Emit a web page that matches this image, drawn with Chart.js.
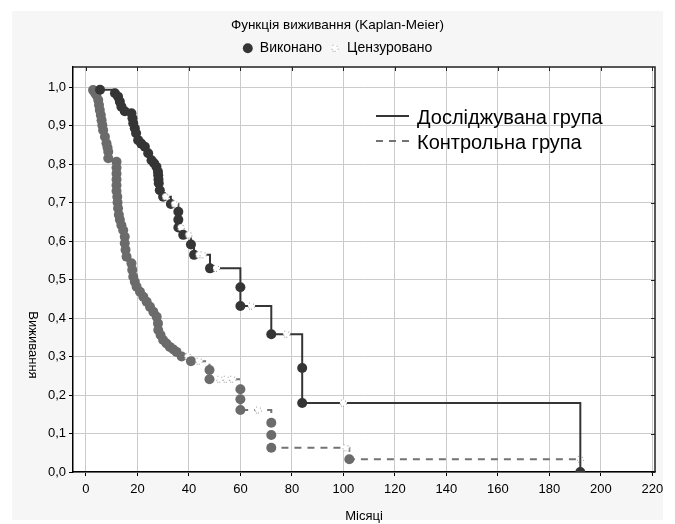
<!DOCTYPE html>
<html lang="uk">
<head>
<meta charset="utf-8">
<title>Функція виживання (Kaplan-Meier)</title>
<script src="https://cdn.jsdelivr.net/npm/chart.js@4.4.1/dist/chart.umd.min.js"></script>
<style>
  html, body { margin: 0; padding: 0; background: #fff; }
  #wrap { width: 675px; height: 524px; }
</style>
</head>
<body>
<div id="wrap"><canvas id="km" width="675" height="524"></canvas></div>
<script>
// Kaplan-Meier estimates: month, survival, censored (1) / event (0)
const studyMonths = [5.5, 11.3, 12.5, 13.2, 13.8, 15.1, 17.7, 18.1, 18.4, 19, 19.5, 20.3, 21.5, 22.9, 24.2, 25.5, 26.5, 27.4, 28, 28.1, 28.2, 28.3, 28.7, 30, 31, 33, 34.5, 35.9, 35.9, 35.9, 37, 37.8, 40, 40.8, 42, 44, 45.5, 48.2, 50.7, 60, 60, 64.3, 72, 78, 84, 84, 100, 192];
const studySurv = [0.993, 0.984, 0.975, 0.962, 0.949, 0.937, 0.932, 0.919, 0.906, 0.893, 0.88, 0.862, 0.853, 0.845, 0.828, 0.81, 0.802, 0.793, 0.78, 0.771, 0.76, 0.75, 0.732, 0.715, 0.715, 0.696, 0.696, 0.676, 0.655, 0.635, 0.635, 0.616, 0.616, 0.591, 0.564, 0.564, 0.564, 0.529, 0.529, 0.48, 0.431, 0.431, 0.358, 0.358, 0.27, 0.179, 0.179, 0];
const studyCens = [0, 0, 0, 0, 0, 0, 0, 0, 0, 0, 0, 0, 0, 0, 0, 0, 0, 0, 0, 0, 0, 0, 0, 0, 1, 0, 1, 0, 0, 0, 1, 0, 1, 0, 0, 1, 1, 0, 1, 0, 0, 1, 0, 1, 0, 0, 1, 0];

const controlMonths = [2.8, 3.5, 4.1, 4.8, 5.1, 5.4, 5.8, 6.1, 6.4, 6.7, 7.4, 8, 8.4, 8.7, 8.7, 11.9, 11.9, 11.9, 11.9, 11.9, 11.9, 12.2, 12.3, 12.5, 12.8, 13.2, 13.8, 14.5, 15.1, 15.1, 15.4, 15.8, 17.7, 18, 18.4, 19, 19.7, 21, 22.3, 23.6, 24.9, 26.2, 27.5, 28, 28.1, 29, 30, 31.3, 32.6, 34, 35.2, 37.2, 39.7, 40.8, 44, 48, 48, 52, 54.5, 57, 60, 60, 60, 67, 72, 72, 72, 101, 102.3, 192];
const controlSurv = [0.992, 0.985, 0.979, 0.966, 0.953, 0.94, 0.927, 0.914, 0.901, 0.888, 0.871, 0.854, 0.843, 0.832, 0.815, 0.806, 0.79, 0.775, 0.76, 0.745, 0.73, 0.715, 0.7, 0.685, 0.668, 0.655, 0.641, 0.628, 0.611, 0.594, 0.577, 0.559, 0.542, 0.525, 0.507, 0.494, 0.481, 0.468, 0.455, 0.442, 0.429, 0.416, 0.403, 0.386, 0.369, 0.356, 0.343, 0.334, 0.325, 0.318, 0.312, 0.3, 0.3, 0.288, 0.288, 0.265, 0.241, 0.241, 0.241, 0.241, 0.215, 0.189, 0.161, 0.161, 0.128, 0.096, 0.063, 0.063, 0.033, 0.033];
const controlCens = [0, 0, 0, 0, 0, 0, 0, 0, 0, 0, 0, 0, 0, 0, 0, 0, 0, 0, 0, 0, 0, 0, 0, 0, 0, 0, 0, 0, 0, 0, 0, 0, 0, 0, 0, 0, 0, 0, 0, 0, 0, 0, 0, 0, 0, 0, 0, 0, 0, 0, 0, 0, 1, 0, 1, 0, 0, 1, 1, 1, 0, 0, 0, 1, 0, 0, 0, 1, 0, 1];

const xTicks = [0, 20, 40, 60, 80, 100, 120, 140, 160, 180, 200, 220];
const yTicks = [0, 0.1, 0.2, 0.3, 0.4, 0.5, 0.6, 0.7, 0.8, 0.9, 1.0];
const groupLabels = ["Досліджувана група", "Контрольна група"];
const markerLabels = ["Виконано", "Цензуровано"];
const yTitle = "Виживання";

const FONT = '"Liberation Sans", Arial, sans-serif';
const DARK = "#353535";
const GREY = "#6b6b6b";
const GREY_LINE = "#737373";

Chart.defaults.font.family = FONT;
Chart.defaults.color = "#000";

// small dotted white speck used for censored observations
function makeCensorMark() {
  const c = document.createElement("canvas");
  c.width = 9; c.height = 9;
  const g = c.getContext("2d");
  g.fillStyle = "#fff";
  g.beginPath(); g.arc(4.5, 4.5, 3.6, 0, Math.PI * 2); g.fill();
  g.fillStyle = "#9a9a9a";
  [[2, 1], [6, 2], [7, 5], [1, 5], [4, 7], [2, 7]].forEach(([px, py]) => g.fillRect(px, py, 1, 1));
  return c;
}
const censorMark = makeCensorMark();

function kmDataset(label, months, surv, cens, lineColor, dotColor, dash) {
  return {
    label,
    data: months.map((m, i) => ({ x: m, y: surv[i] })),
    stepped: true,
    fill: false,
    borderColor: lineColor,
    borderWidth: 2,
    borderDash: dash,
    pointRadius: 5,
    pointHoverRadius: 5,
    pointBorderWidth: 0,
    pointBackgroundColor: dotColor,
    pointBorderColor: dotColor,
    pointStyle: (ctx) => (cens[ctx.dataIndex] ? censorMark : "circle"),
  };
}

// grey panel behind everything, white plotting area
const panelBg = {
  id: "panelBg",
  beforeDraw(chart) {
    const { ctx, chartArea: a } = chart;
    ctx.save();
    ctx.fillStyle = "#fff";
    ctx.fillRect(0, 0, chart.width, chart.height);
    ctx.fillStyle = "#f6f6f6";
    ctx.fillRect(12, 11, 651, 509);
    ctx.fillStyle = "#fff";
    ctx.fillRect(a.left, a.top, a.right - a.left, a.bottom - a.top);
    ctx.restore();
  },
};

// top/right frame with inward ticks, y title (sits low, like the original) and the group key
const frameAndKey = {
  id: "frameAndKey",
  afterDraw(chart) {
    const { ctx, chartArea: a, scales } = chart;
    ctx.save();
    ctx.strokeStyle = "#222";
    ctx.lineWidth = 1.5;
    ctx.beginPath();
    ctx.moveTo(a.left, a.top); ctx.lineTo(a.right, a.top); ctx.lineTo(a.right, a.bottom);
    ctx.stroke();
    ctx.lineWidth = 1;
    ctx.beginPath();
    xTicks.forEach((v) => {
      const px = Math.round(scales.x.getPixelForValue(v)) + 0.5;
      ctx.moveTo(px, a.top); ctx.lineTo(px, a.top + 4);
    });
    yTicks.forEach((v) => {
      const py = Math.round(scales.y.getPixelForValue(v)) + 0.5;
      ctx.moveTo(a.right, py); ctx.lineTo(a.right - 4, py);
    });
    ctx.stroke();

    ctx.fillStyle = "#000";
    ctx.textAlign = "center";
    ctx.textBaseline = "middle";
    ctx.font = "13px " + FONT;
    ctx.save();
    ctx.translate(33, 345);
    ctx.rotate(Math.PI / 2);
    ctx.fillText(yTitle, 0, 0);
    ctx.restore();

    // group key
    ctx.font = "20px " + FONT;
    ctx.textAlign = "left";
    ctx.lineWidth = 2;
    ctx.strokeStyle = DARK;
    ctx.beginPath(); ctx.moveTo(376, 116); ctx.lineTo(409, 116); ctx.stroke();
    ctx.fillText(groupLabels[0], 417, 118);
    ctx.strokeStyle = GREY_LINE;
    ctx.setLineDash([7, 6]);
    ctx.beginPath(); ctx.moveTo(376, 141); ctx.lineTo(410, 141); ctx.stroke();
    ctx.setLineDash([]);
    ctx.fillText(groupLabels[1], 417, 143);
    ctx.restore();
  },
};

new Chart(document.getElementById("km"), {
  type: "line",
  data: {
    datasets: [
      kmDataset(groupLabels[0], studyMonths, studySurv, studyCens, DARK, DARK, []),
      kmDataset(groupLabels[1], controlMonths, controlSurv, controlCens, GREY_LINE, GREY, [7, 6]),
    ],
  },
  options: {
    responsive: false,
    animation: false,
    events: [],
    layout: { padding: 0 },
    plugins: {
      title: {
        display: true,
        text: "Функція виживання (Kaplan-Meier)",
        color: "#000",
        font: { size: 13.5, weight: "normal" },
        padding: { top: 17, bottom: 0 },
      },
      legend: {
        display: true,
        weight: 1800,
        onClick: null,
        labels: {
          usePointStyle: true,
          boxWidth: 10,
          boxHeight: 7,
          padding: 8,
          color: "#000",
          font: { size: 14 },
          generateLabels: () => [
            { text: markerLabels[0], pointStyle: "circle", fillStyle: DARK, strokeStyle: DARK, lineWidth: 0, hidden: false, fontColor: "#000" },
            { text: markerLabels[1], pointStyle: censorMark, fillStyle: "#fff", strokeStyle: "#fff", lineWidth: 0, hidden: false, fontColor: "#000" },
          ],
        },
      },
      subtitle: { display: true, text: "", font: { size: 1 }, padding: { top: 0.6, bottom: 0 } },
      tooltip: { enabled: false },
    },
    scales: {
      x: {
        type: "linear",
        min: -5,
        max: 221,
        afterBuildTicks: (s) => { s.ticks = xTicks.map((v) => ({ value: v })); },
        afterFit: (s) => { s.height = 52; },
        ticks: { color: "#000", font: { size: 13 }, padding: 6, maxRotation: 0 },
        grid: { color: "#cbcbcb", lineWidth: 1, tickColor: "#000", tickLength: 4 },
        border: { color: "#000", width: 1.5 },
        title: { display: true, text: "Місяці", color: "#000", font: { size: 13 }, padding: { top: 0, bottom: 0 } },
      },
      y: {
        type: "linear",
        min: 0,
        max: 1.052,
        afterBuildTicks: (s) => { s.ticks = yTicks.map((v) => ({ value: v })); },
        afterFit: (s) => { s.width = 73; },
        ticks: { color: "#000", font: { size: 13 }, padding: 3, callback: (v) => v.toFixed(1).replace(".", ",") },
        grid: { color: "#cbcbcb", lineWidth: 1, tickColor: "#000", tickLength: 4 },
        border: { color: "#000", width: 1.5 },
        title: { display: false },
      },
      // empty right-hand strip so the title and legend centre on the whole canvas
      yRight: {
        type: "linear",
        position: "right",
        min: 0,
        max: 1,
        afterFit: (s) => { s.width = 20; },
        ticks: { display: false },
        grid: { display: false, drawTicks: false },
        border: { display: false },
      },
    },
  },
  plugins: [panelBg, frameAndKey],
});
</script>
</body>
</html>
